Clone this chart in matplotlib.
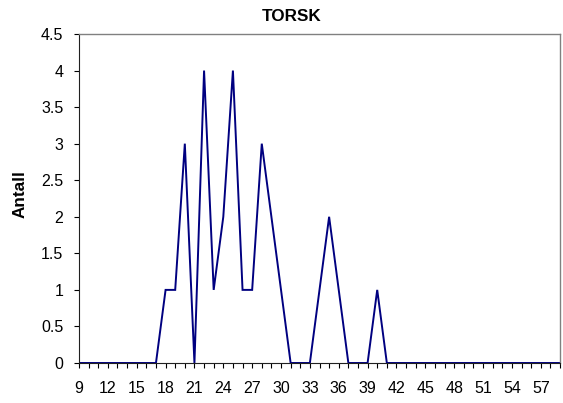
import matplotlib
matplotlib.use("Agg")
import matplotlib.pyplot as plt

plt.rcParams['font.family'] = ['Liberation Sans', 'DejaVu Sans']

lengths = list(range(9, 60))
counts = [0, 0, 0, 0, 0, 0, 0, 0,   # 9-16
          0, 1, 1, 3, 0, 4, 1, 2, 4, 1, 1, 3, 2, 1, 0,  # 17-31
          0, 0, 1, 2, 1, 0, 0, 0, 1, 0,  # 32-41
          0, 0, 0, 0, 0, 0, 0, 0, 0, 0, 0, 0, 0, 0, 0, 0, 0, 0]  # 42-59
title = "TORSK"
ylabel = "Antall"
yticks = [0, 0.5, 1, 1.5, 2, 2.5, 3, 3.5, 4, 4.5]

W, H = 563, 403
fig = plt.figure(figsize=(W / 100, H / 100), dpi=100)
ax = fig.add_axes([79 / W, 1 - 363 / H, (560 - 79) / W, (363 - 34) / H])
ax.plot(lengths, counts, color='#000080', linewidth=1.4, solid_joinstyle='miter')
ax.set_xlim(lengths[0], lengths[-1])
ax.set_ylim(0, 4.5)
ax.set_yticks(yticks)
ax.set_yticklabels([('%g' % v) for v in yticks])
ax.set_xticks(lengths)
ax.set_xticklabels([str(v) if (v - 9) % 3 == 0 else '' for v in lengths])
ax.tick_params(axis='both', direction='out', length=3.6, width=0.8, colors='black',
               labelsize=11.5)
ax.tick_params(axis='y', pad=7.7)
ax.tick_params(axis='x', pad=9.5)
for side in ['top', 'right']:
    ax.spines[side].set_color('#808080')
    ax.spines[side].set_linewidth(1.0)
for side in ['left', 'bottom']:
    ax.spines[side].set_color('#202020')
    ax.spines[side].set_linewidth(0.8)
fig.text(292 / W, 1 - 20.7 / H, title, fontsize=12.3, fontweight='bold',
         ha='center', va='baseline')
fig.text(20.5 / W, 1 - 194 / H, ylabel, fontsize=12.3, fontweight='bold',
         rotation=90, ha='center', va='center')
fig.savefig('out.png', dpi=100)
